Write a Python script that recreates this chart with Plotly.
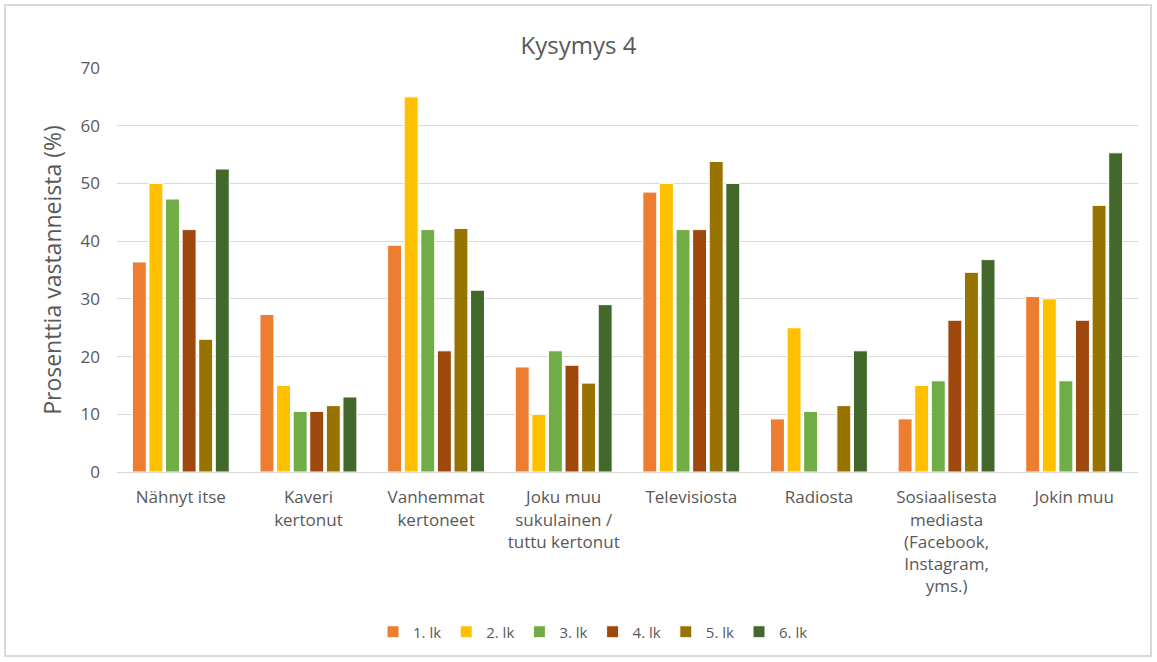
import plotly.graph_objects as go

categories = ["Nähnyt itse", "Kaveri<br>kertonut", "Vanhemmat<br>kertoneet",
              "Joku muu<br>sukulainen /<br>tuttu kertonut", "Televisiosta", "Radiosta",
              "Sosiaalisesta<br>mediasta<br>(Facebook,<br>Instagram,<br>yms.)", "Jokin muu"]
series_names = ["1. lk", "2. lk", "3. lk", "4. lk", "5. lk", "6. lk"]
lk1 = [36.4, 27.3, 39.3, 18.2, 48.5, 9.2, 9.2, 30.4]
lk2 = [50.0, 15.0, 65.0, 10.0, 50.0, 25.0, 15.0, 30.0]
lk3 = [47.3, 10.5, 42.0, 21.0, 42.0, 10.5, 15.8, 15.8]
lk4 = [42.0, 10.5, 21.0, 18.5, 42.0, 0.0, 26.3, 26.3]
lk5 = [23.0, 11.5, 42.2, 15.4, 53.8, 11.5, 34.6, 46.2]
lk6 = [52.5, 13.0, 31.5, 29.0, 50.0, 21.0, 36.8, 55.3]
colors = ["#ED7D31", "#FFC000", "#70AD47", "#9E480E", "#997300", "#43682B"]

fig = go.Figure()
for name, vals, col in zip(series_names, [lk1, lk2, lk3, lk4, lk5, lk6], colors):
    fig.add_trace(go.Bar(x=categories, y=vals, name=name, marker_color=col,
                         marker_line_color="white", marker_line_width=1))

W, H = 1157, 662
L, R, T, B = 117, 19, 68, 190
pw, ph = W - L - R, H - T - B
def px(x): return (x - L) / pw
def py(y): return (H - B - y) / ph

grey = "#595959"
font = "Open Sans, Liberation Sans, sans-serif"
fig.update_layout(
    width=W, height=H,
    margin=dict(l=L, r=R, t=T, b=B),
    paper_bgcolor="white", plot_bgcolor="white",
    barmode="group", bargap=0.22, bargroupgap=0.16,
    font=dict(family=font, size=14, color=grey),
    title=dict(text="Kysymys 4", x=0.5, xanchor="center", y=(H - 46) / H, yanchor="middle",
               font=dict(size=24, color=grey)),
    legend=dict(orientation="h", x=px(593), xanchor="center", y=py(632), yanchor="middle",
                font=dict(size=15, color=grey), itemwidth=30, traceorder="normal"),
    shapes=[dict(type="rect", xref="paper", yref="paper",
                 x0=px(5), x1=px(1151), y0=py(656), y1=py(5),
                 line=dict(color="#D9D9D9", width=2), fillcolor="rgba(0,0,0,0)", layer="below")],
)
fig.update_yaxes(range=[0, 70], dtick=10, gridcolor="#D9D9D9", gridwidth=1,
                 zeroline=True, zerolinecolor="#D9D9D9", zerolinewidth=1,
                 ticks="", ticklabelstandoff=16, tickfont=dict(size=17, color=grey),
                 title=dict(text="Prosenttia vastanneista (%)", font=dict(size=23, color=grey), standoff=12))
fig.update_xaxes(showline=True, linecolor="#D9D9D9", linewidth=1, ticks="",
                 ticklabelstandoff=10, tickfont=dict(size=17, color=grey), tickangle=0)

fig.write_html("out.html", config={"displayModeBar": False},
               post_script="document.body.style.margin='0';")
